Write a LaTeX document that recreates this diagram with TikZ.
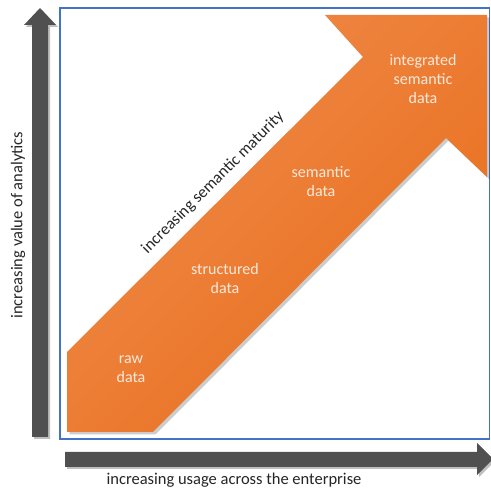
\documentclass[tikz,border=0pt]{standalone}
\usepackage{fontspec}
\setmainfont{Carlito}
\usetikzlibrary{shadows}
\definecolor{axisgray}{HTML}{505050}
\definecolor{frameblue}{HTML}{4472C4}
\definecolor{orL}{HTML}{F08A4A}
\definecolor{orM}{HTML}{F27C2A}
\definecolor{orD}{HTML}{E86F1C}
\definecolor{lbltext}{HTML}{FCE9DC}
\definecolor{axtext}{HTML}{262626}
\tikzset{
  grayarrow/.style={fill=axisgray, drop shadow={shadow xshift=2pt, shadow yshift=-2pt, opacity=0.25, fill=black}},
  bigarrow/.style={top color=orL, middle color=orM, bottom color=orD, shading angle=45,
     drop shadow={shadow xshift=2.5pt, shadow yshift=-2.5pt, opacity=0.2, fill=black}},
  stage/.style={text=lbltext, font=\fontsize{16}{19}\selectfont, align=center, inner sep=0pt},
  axislabel/.style={text=axtext, font=\fontsize{16.5}{19}\selectfont, inner sep=0pt}
}
\begin{document}
\begin{tikzpicture}[x=1pt,y=-1pt]
\useasboundingbox (0,0) rectangle (491,489);
\fill[white] (0,0) rectangle (491,489);
% frame
\draw[frameblue, line width=1.5pt] (60,8) rectangle (489.5,439);
% vertical axis arrow
\path[grayarrow] (32,437) -- (32,25) -- (24,25) -- (40,8) -- (56,25) -- (48,25) -- (48,437) -- cycle;
% horizontal axis arrow
\path[grayarrow] (65,452) -- (477,452) -- (477,443) -- (493,459) -- (477,475) -- (477,467) -- (65,467) -- cycle;
% big orange arrow
\path[bigarrow] (67,352) -- (363,57) -- (325,15) -- (487,15) -- (487,177) -- (446,138) -- (153,432) -- (67,432) -- cycle;
% stage labels
\node[stage] (raw) at (131,369) {raw\\data};
\node[stage] (structured) at (225,279) {structured\\data};
\node[stage] (semantic) at (321,182) {semantic\\data};
\node[stage] (integrated) at (423,79) {integrated\\semantic\\data};
% axis labels
\node[axislabel] (xlabel) at (234,480) {increasing usage across the enterprise};
\node[axislabel, rotate=90] (ylabel) at (18,225) {increasing value of analytics};
\node[axislabel, rotate=45] (maturity) at (213,183) {increasing semantic maturity};
\end{tikzpicture}
\end{document}
